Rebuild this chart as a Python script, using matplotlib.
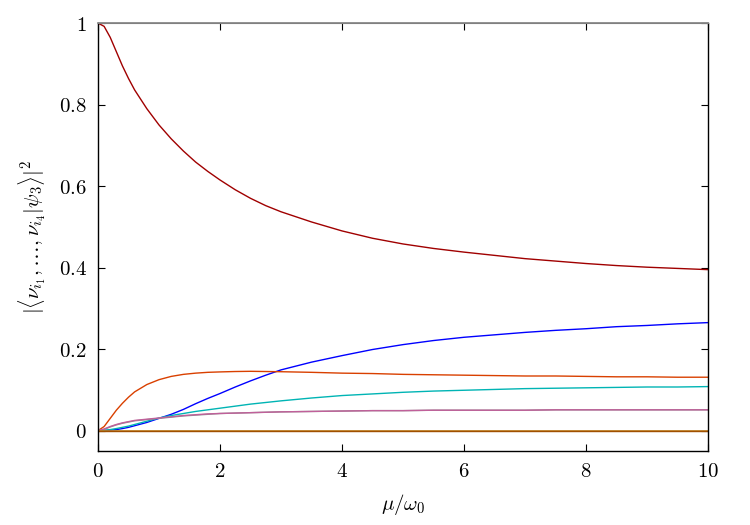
import numpy as np
import matplotlib
matplotlib.use('Agg')
from matplotlib import pyplot as plt
from matplotlib.ticker import FuncFormatter

plt.rcParams['mathtext.fontset'] = 'cm'
plt.rcParams['font.family'] = 'serif'
plt.rcParams['font.serif'] = ['DejaVu Serif']

mu = [0, 0.1, 0.2, 0.3, 0.4, 0.5, 0.6, 0.8, 1.0, 1.2, 1.4, 1.6, 1.8, 2.0, 2.25, 2.5,
      2.75, 3.0, 3.5, 4.0, 4.5, 5.0, 5.5, 6.0, 6.5, 7.0, 7.5, 8.0, 8.5, 9.0, 9.5, 10]
p_red = [1.0, 0.992, 0.965, 0.930, 0.895, 0.864, 0.836, 0.790, 0.750, 0.716, 0.686, 0.659,
         0.636, 0.615, 0.591, 0.570, 0.552, 0.537, 0.512, 0.490, 0.472, 0.458, 0.447, 0.438,
         0.430, 0.422, 0.416, 0.410, 0.405, 0.401, 0.398, 0.395]
p_blue = [0, 0.0003, 0.001, 0.0025, 0.005, 0.008, 0.012, 0.020, 0.030, 0.040, 0.052, 0.066,
          0.079, 0.091, 0.107, 0.122, 0.136, 0.149, 0.168, 0.184, 0.199, 0.211, 0.221, 0.229,
          0.235, 0.241, 0.246, 0.250, 0.255, 0.258, 0.262, 0.265]
p_orange = [0, 0.010, 0.030, 0.050, 0.067, 0.082, 0.095, 0.113, 0.125, 0.133, 0.138, 0.141,
            0.143, 0.144, 0.145, 0.1455, 0.145, 0.1445, 0.143, 0.141, 0.140, 0.138, 0.137,
            0.136, 0.135, 0.134, 0.134, 0.133, 0.132, 0.132, 0.131, 0.131]
p_cyan = [0, 0.0007, 0.0025, 0.005, 0.008, 0.011, 0.015, 0.023, 0.031, 0.037, 0.042, 0.047,
          0.051, 0.055, 0.060, 0.065, 0.069, 0.073, 0.080, 0.086, 0.090, 0.094, 0.097, 0.099,
          0.101, 0.103, 0.104, 0.105, 0.106, 0.107, 0.107, 0.108]
p_purple = [0, 0.004, 0.010, 0.015, 0.019, 0.022, 0.025, 0.028, 0.031, 0.034, 0.037, 0.039,
            0.041, 0.042, 0.043, 0.044, 0.045, 0.046, 0.047, 0.048, 0.049, 0.049, 0.050, 0.050,
            0.050, 0.050, 0.051, 0.051, 0.051, 0.051, 0.051, 0.051]
p_gray = [0, 0.003, 0.009, 0.014, 0.018, 0.021, 0.024, 0.027, 0.030, 0.033, 0.036, 0.038,
          0.040, 0.042, 0.043, 0.044, 0.045, 0.046, 0.047, 0.048, 0.049, 0.049, 0.050, 0.050,
          0.050, 0.050, 0.051, 0.051, 0.051, 0.051, 0.051, 0.051]
p_zero = [0] * len(mu)
p_one = [1] * len(mu)

fig = plt.figure(figsize=(7.5, 5.25), dpi=100)
ax = fig.add_axes([0.1307, 0.141, 0.8133, 0.815])

ax.plot(mu, p_one, color='#808080', lw=1.2, clip_on=False, zorder=3)
ax.plot(mu, p_red, color='#a00000', lw=1.0)
ax.plot(mu, p_blue, color='#0000ff', lw=1.0)
ax.plot(mu, p_orange, color='#d94000', lw=1.0)
ax.plot(mu, p_cyan, color='#00b4b4', lw=1.0)
ax.plot(mu, p_gray, color='#909090', lw=1.0)
ax.plot(mu, p_purple, color='#c0609a', lw=1.0)
ax.plot(mu, p_zero, color='#c08020', lw=1.2)
ax.plot(mu, p_zero, color='#a05000', lw=1.0)

ax.set_xlim(0, 10)
ax.set_ylim(-0.05, 1)
ax.set_xticks([0, 2, 4, 6, 8, 10])
ax.set_yticks([0, 0.2, 0.4, 0.6, 0.8, 1])
fmt = FuncFormatter(lambda v, p: '$%g$' % round(v, 2))
ax.xaxis.set_major_formatter(fmt)
ax.yaxis.set_major_formatter(fmt)
ax.tick_params(direction='in', top=True, right=True, labelsize=15, length=5, pad=8)
ax.spines['top'].set_color('#808080')
for s in ['left', 'right', 'bottom']:
    ax.spines[s].set_linewidth(1.0)

ax.set_xlabel(r'$\mu/\omega_0$', fontsize=15, labelpad=8)
ax.set_ylabel(r'$|\langle\nu_{i_1},\ldots,\nu_{i_4}|\psi_3\rangle|^2$', fontsize=15, labelpad=8)

plt.savefig('out.png')
